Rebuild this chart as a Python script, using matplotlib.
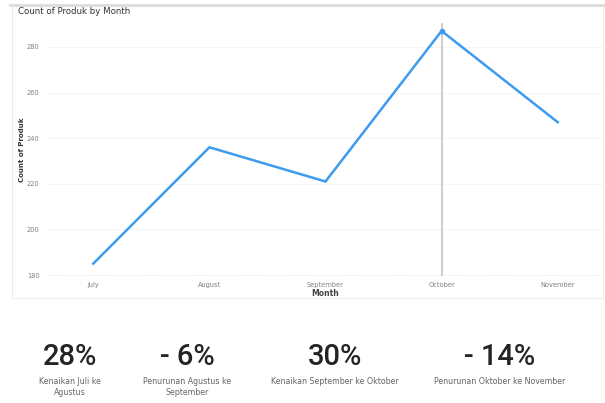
import matplotlib.pyplot as plt
from matplotlib.patches import Rectangle
from matplotlib.lines import Line2D

months = ["July", "August", "September", "October", "November"]
counts = [185, 236, 221, 287, 247]
y_ticks = [180, 200, 220, 240, 260, 280]

kpi_values = ["28%", "-6%", "30%", "-14%"]
kpi_captions = ["Kenaikan Juli ke\nAgustus", "Penurunan Agustus ke\nSeptember",
                "Kenaikan September ke Oktober", "Penurunan Oktober ke November"]
kpi_x = [70, 187, 335, 500]

W, H = 605, 403
fig = plt.figure(figsize=(W / 100, H / 100), dpi=100)
fig.patch.set_facecolor("white")

def fx(px):
    return px / W

def fy(py):
    return 1 - py / H

# card frame around the line chart
fig.add_artist(Rectangle((fx(12), fy(298)), fx(603) - fx(12), fy(6) - fy(298),
                         transform=fig.transFigure, fill=False, edgecolor="#eeeeee", lw=0.8))
fig.add_artist(Line2D([fx(10), fx(603)], [fy(5), fy(5)], transform=fig.transFigure,
                      color="#dedede", lw=2.2))

ax = fig.add_axes([fx(48), fy(278), fx(603) - fx(48), fy(20) - fy(278)])
x = list(range(len(months)))
ax.plot(x, counts, color="#3d9bf0", lw=1.8, solid_joinstyle="miter", zorder=3)
peak = counts.index(max(counts))
ax.axvline(peak, ymin=0.012, ymax=0.985, color="#c8c8c8", lw=1.3, zorder=2)
ax.plot([peak], [counts[peak]], "o", color="#3d9bf0", ms=3, zorder=4)

ax.set_xlim(-0.39, 4.39)
ax.set_ylim(178.7, 291.8)
ax.set_xticks(x)
ax.set_xticklabels(months)
ax.set_yticks(y_ticks)
ax.tick_params(length=0, labelsize=4.8, labelcolor="#808080")
ax.tick_params(axis="y", pad=6)
ax.tick_params(axis="x", pad=3)
ax.grid(axis="y", color="#e4e4e4", lw=0.6, linestyle=(0, (1, 1.5)))
for s in ax.spines.values():
    s.set_visible(False)
ax.set_facecolor("none")

fig.text(fx(18), fy(11), "Count of Produk by Month", fontsize=6.2, color="#333333",
         va="center", ha="left")
fig.text(fx(22), fy(150), "Count of Produk", fontsize=5, color="#333333",
         rotation=90, va="center", ha="center", fontweight="bold")
fig.text(fx(325), fy(293), "Month", fontsize=5.5, color="#444444",
         va="center", ha="center", fontweight="bold")

# KPI cards below the chart
for xv, val, cap in zip(kpi_x, kpi_values, kpi_captions):
    fig.text(fx(xv), fy(357), val.replace("-", "- "), fontsize=21, color="#252423",
             family="Roboto", fontweight="medium", va="center", ha="center")
    fig.text(fx(xv), fy(377), cap, fontsize=5.7, color="#666666", va="top",
             ha="center", linespacing=1.3)

fig.savefig("out.png", dpi=100)
